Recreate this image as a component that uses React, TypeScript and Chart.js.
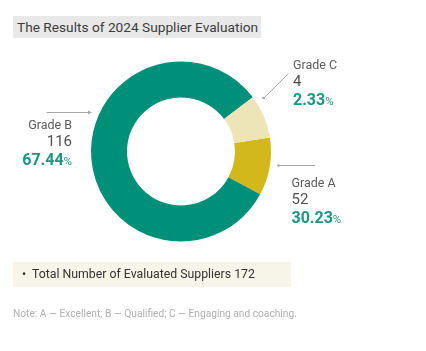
import React, { useEffect, useRef } from "react";
import { Chart, registerables } from "chart.js";

Chart.register(...registerables);

// Data
const categories = ["Grade A", "Grade B", "Grade C"];
const counts = [52, 116, 4];
const percents = ["30.23", "67.44", "2.33"];
// Slice shares as drawn in the reference picture (degrees-of-circle proportions)
const sliceShares = [10.4, 81.8, 7.8];
const sliceColors = ["#D3B81C", "#008F79", "#EDE4B7"];
const titleText = "The Results of 2024 Supplier Evaluation";
const totalText = "Total Number of Evaluated Suppliers 172";
const noteText = "Note: A — Excellent; B — Qualified; C — Engaging and coaching.";

const FONT = "Roboto, 'Noto Sans', sans-serif";
const GREEN_TEXT = "#1B9680";

const leaderPlugin = {
  id: "leaders",
  afterDraw(chart: any) {
    const ctx = chart.ctx;
    ctx.save();
    ctx.strokeStyle = "#A8A8A8";
    ctx.fillStyle = "#A8A8A8";
    ctx.lineWidth = 1;
    // Grade B: horizontal with arrow at right
    ctx.beginPath();
    ctx.moveTo(38.5, 104.5);
    ctx.lineTo(82, 104.5);
    ctx.stroke();
    ctx.beginPath();
    ctx.moveTo(84, 104.5);
    ctx.lineTo(80, 102.5);
    ctx.lineTo(80, 106.5);
    ctx.closePath();
    ctx.fill();
    // Grade C: diagonal with dot at lower left
    ctx.beginPath();
    ctx.moveTo(280.5, 65.5);
    ctx.lineTo(256, 90);
    ctx.stroke();
    ctx.beginPath();
    ctx.arc(255.5, 90, 1.3, 0, Math.PI * 2);
    ctx.fill();
    // Grade A: horizontal with dot at left
    ctx.beginPath();
    ctx.moveTo(271, 157.5);
    ctx.lineTo(307, 157.5);
    ctx.stroke();
    ctx.beginPath();
    ctx.arc(270.5, 157.5, 1.3, 0, Math.PI * 2);
    ctx.fill();
    ctx.restore();
  },
};

function Label({ idx, left, right, top }: { idx: number; left?: number; right?: number; top: number }) {
  const align = right !== undefined ? "right" : "left";
  const pos: any = { position: "absolute", top, textAlign: align, fontFamily: FONT, whiteSpace: "nowrap" };
  if (right !== undefined) pos.right = right;
  else pos.left = left;
  return (
    <div style={pos}>
      <div style={{ fontSize: 12.5, lineHeight: "16px", color: "#5A5A5A" }}>{categories[idx]}</div>
      <div style={{ fontSize: 15, lineHeight: "17px", color: "#505050" }}>{counts[idx]}</div>
      <div style={{ fontSize: 16, lineHeight: "20px", color: GREEN_TEXT, fontWeight: 700 }}>
        {percents[idx]}
        <span style={{ fontSize: 11.5, fontWeight: 400 }}>%</span>
      </div>
    </div>
  );
}

export default function App() {
  const canvasRef = useRef<HTMLCanvasElement>(null);

  useEffect(() => {
    if (!canvasRef.current) return;
    const chart = new Chart(canvasRef.current, {
      type: "doughnut",
      data: {
        labels: categories,
        datasets: [
          {
            data: sliceShares,
            backgroundColor: sliceColors,
            borderWidth: 0,
          },
        ],
      },
      options: {
        responsive: false,
        maintainAspectRatio: false,
        animation: false,
        rotation: 81,
        cutout: "60%",
        layout: { padding: { left: 83, right: 147, top: 53.5, bottom: 101.5 } },
        plugins: {
          legend: { display: false },
          tooltip: { enabled: false },
        },
      },
      plugins: [leaderPlugin],
    });
    return () => chart.destroy();
  }, []);

  return (
    <div style={{ position: "relative", width: 410, height: 335, fontFamily: FONT }}>
      <canvas ref={canvasRef} width={410} height={335} style={{ position: "absolute", left: 0, top: 0 }} />
      <div
        style={{
          position: "absolute",
          left: 5,
          top: 8,
          width: 248,
          height: 22,
          background: "#E8E8E8",
          boxSizing: "border-box",
          paddingLeft: 4,
          fontSize: 13.7,
          lineHeight: "22px",
          color: "#3C3C3C",
          whiteSpace: "nowrap",
        }}
      >
        {titleText}
      </div>
      <Label idx={1} right={346} top={109} />
      <Label idx={2} left={285} top={49} />
      <Label idx={0} left={283.5} top={167} />
      <div
        style={{
          position: "absolute",
          left: 5,
          top: 254,
          width: 278,
          height: 25,
          background: "#F7F4E8",
          fontSize: 12.3,
          lineHeight: "25px",
          color: "#333",
          whiteSpace: "nowrap",
        }}
      >
        <span style={{ position: "absolute", left: 9 }}>•</span>
        <span style={{ position: "absolute", left: 19 }}>{totalText}</span>
      </div>
      <div
        style={{
          position: "absolute",
          left: 5,
          top: 299,
          fontSize: 10.2,
          lineHeight: "13px",
          color: "#AFAFAF",
          whiteSpace: "nowrap",
        }}
      >
        {noteText}
      </div>
    </div>
  );
}
